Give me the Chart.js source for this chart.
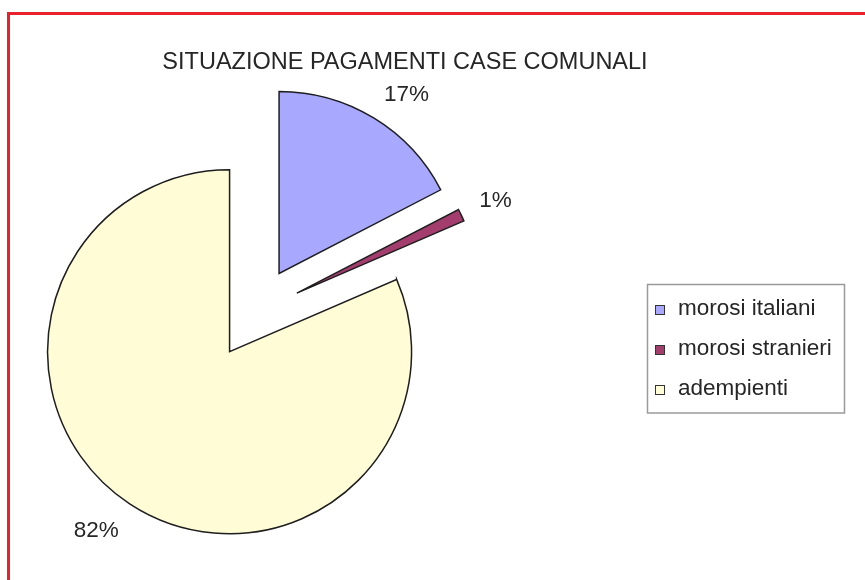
<!DOCTYPE html>
<html><head><meta charset="utf-8">
<script src="https://cdn.jsdelivr.net/npm/chart.js@4"></script>
<style>
html,body{margin:0;padding:0;background:#fff;width:865px;height:580px;overflow:hidden;}
#frame{position:absolute;left:7px;top:12px;width:900px;height:620px;border-top:3px solid #e8222c;border-left:3px solid #e8222c;box-sizing:border-box;pointer-events:none;}
#c{position:absolute;left:0;top:0;}
</style>
</head><body>
<canvas id="c" width="865" height="580"></canvas>
<div id="frame"></div>
<script>
// ---- data ----
const chartTitle = 'SITUAZIONE PAGAMENTI CASE COMUNALI';
const categories = ['morosi italiani', 'morosi stranieri', 'adempienti'];
const values = [17.4, 1.1, 81.5];
const percentLabels = ['17%', '1%', '82%'];
const colors = ['#a8a8ff', '#a33d6e', '#fffcd6'];

// ---- styling / layout ----
const FONT = '"Liberation Sans", Arial, Helvetica, sans-serif';
const TEXT_COLOR = '#262626';
const RADIUS = 182;
const EXPLODE = 46.3; // px each slice is pulled out along its mid angle

// pull every slice out of the common centre (Excel style "exploded" pie)
const explode = {
  id: 'explode',
  afterDatasetsUpdate(chart) {
    chart.getDatasetMeta(0).data.forEach(arc => {
      const mid = (arc.startAngle + arc.endAngle) / 2;
      if (arc._cx === undefined) { arc._cx = arc.x; arc._cy = arc.y; }
      arc.x = arc._cx + Math.cos(mid) * EXPLODE;
      arc.y = arc._cy + Math.sin(mid) * EXPLODE;
    });
  }
};

const decorations = {
  id: 'decorations',
  afterDraw(chart) {
    const ctx = chart.ctx;
    ctx.save();
    ctx.fillStyle = TEXT_COLOR;
    // title
    ctx.font = '23.5px ' + FONT;
    ctx.textAlign = 'center';
    ctx.textBaseline = 'alphabetic';
    ctx.fillText(chartTitle, 405, 69);

    // percent labels
    const size = 22.5;
    ctx.font = size + 'px ' + FONT;
    const meta = chart.getDatasetMeta(0);
    meta.data.forEach((arc, i) => {
      const mid = (arc.startAngle + arc.endAngle) / 2;
      const dx = Math.cos(mid), dy = Math.sin(mid);
      const d = arc.outerRadius + 20;
      const ax = arc.x + dx * d, ay = arc.y + dy * d;
      ctx.textAlign = dx >= 0 ? 'left' : 'right';
      const y = dy < 0 ? ay : ay + size * 0.716;
      ctx.fillText(percentLabels[i], ax, y);
    });

    // legend
    const bx = 647.5, by = 284.5, bw = 197, bh = 128.5;
    ctx.strokeStyle = '#9a9a9a';
    ctx.lineWidth = 1.5;
    ctx.strokeRect(bx, by, bw, bh);
    const items = chart.options.plugins.legend.labels.generateLabels(chart);
    ctx.textAlign = 'left';
    items.forEach((it, i) => {
      const base = 315 + i * 40;
      ctx.fillStyle = it.fillStyle;
      ctx.fillRect(655.5, base - 9.5, 9, 9);
      ctx.strokeStyle = '#333';
      ctx.lineWidth = 1;
      ctx.strokeRect(655.5, base - 9.5, 9, 9);
      ctx.fillStyle = TEXT_COLOR;
      ctx.fillText(it.text, 678, base);
    });
    ctx.restore();
  }
};

new Chart(document.getElementById('c'), {
  type: 'pie',
  data: {
    labels: categories,
    datasets: [{
      data: values,
      backgroundColor: colors,
      borderColor: '#1e1e1e',
      borderWidth: 1.5,
      borderJoinStyle: 'miter',
      radius: RADIUS
    }]
  },
  options: {
    responsive: false,
    animation: false,
    events: [],
    layout: { padding: { left: 0, right: 355, top: 46, bottom: 0 } },
    plugins: { legend: { display: false }, tooltip: { enabled: false }, title: { display: false } }
  },
  plugins: [explode, decorations]
});
</script>
</body></html>
